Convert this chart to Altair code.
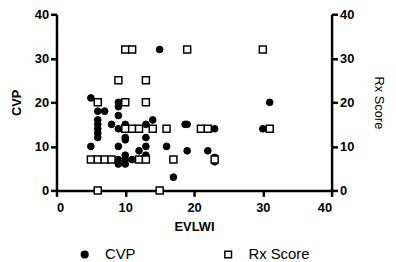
import altair as alt
import pandas as pd

# CVP (left axis) vs EVLWI
cvp_x = [5, 6, 7, 6, 6, 6, 6, 6, 5, 9, 9, 9, 8, 9, 10, 10, 11, 12, 13, 14, 10, 10, 9, 9, 9, 10, 10, 11, 10,
         13, 13, 13, 12, 16, 15, 17, 19, 19, 18.7, 22, 23, 22, 23, 23, 30, 31]
cvp_y = [21, 18, 18, 16, 15, 14, 13, 12, 10, 20, 19, 17, 15, 14, 15, 14, 14, 14, 15, 16, 12, 11.5, 10, 7, 6, 6, 7, 7, 8,
         12, 10, 8, 9, 10, 32, 3, 9, 15, 15, 9, 14, 14, 7.5, 6.5, 14, 20]

# Rx Score (right axis) vs EVLWI
rx_x = [6, 15, 5, 6, 7, 8, 12, 13, 17, 23, 10, 11, 12, 14, 16, 21, 22, 31, 6, 10, 13, 9, 13, 10, 11, 19, 30]
rx_y = [0, 0, 7, 7, 7, 7, 7, 7, 7, 7, 14, 14, 14, 14, 14, 14, 14, 14, 20, 20, 20, 25, 25, 32, 32, 32, 32]

series = ["CVP", "Rx Score"]

df_cvp = pd.DataFrame({"EVLWI": cvp_x, "val": cvp_y, "series": series[0]})
df_rx = pd.DataFrame({"EVLWI": rx_x, "val": rx_y, "series": series[1]})

FONT = "Liberation Sans"

xenc = alt.X("EVLWI:Q", scale=alt.Scale(domain=[0, 40], nice=False, zero=False),
             axis=alt.Axis(title="EVLWI", values=[0, 10, 20, 30, 40], titlePadding=7, labelPadding=5))

legend = alt.Legend(title=None, orient="none", legendX=21, legendY=235,
                    direction="horizontal", columnPadding=86,
                    labelFontSize=15, labelFont=FONT, labelFontWeight="normal", labelColor="black",
                    symbolSize=45, symbolStrokeWidth=1.5, labelOffset=13)
shape = alt.Shape("series:N", scale=alt.Scale(domain=series, range=["circle", "square"]), legend=legend)
fill = alt.Fill("series:N", scale=alt.Scale(domain=series, range=["black", "white"]), legend=legend)
stroke = alt.Stroke("series:N", scale=alt.Scale(domain=series, range=["black", "black"]), legend=legend)

left = alt.Chart(df_cvp).mark_point(size=46, opacity=1, strokeWidth=1).encode(
    x=xenc,
    y=alt.Y("val:Q", scale=alt.Scale(domain=[0, 40], nice=False),
            axis=alt.Axis(title="CVP", orient="left", values=[0, 10, 20, 30, 40], titlePadding=11)),
    shape=shape, fill=fill, stroke=stroke,
)

right = alt.Chart(df_rx).mark_point(size=50, opacity=1, strokeWidth=1.5).encode(
    x=xenc,
    y=alt.Y("val:Q", scale=alt.Scale(domain=[0, 40], nice=False),
            axis=alt.Axis(title="Rx Score", orient="right", values=[0, 10, 20, 30, 40],
                          titleFontWeight="normal", titlePadding=18)),
    shape=shape, fill=fill, stroke=stroke,
)

chart = alt.layer(left, right).resolve_scale(y="independent").properties(
    width=278, height=178,
    autosize=alt.AutoSizeParams(type="none"),
    padding={"left": 49, "top": 5, "right": 57, "bottom": 71},
).configure_view(stroke=None).configure_axis(
    domainColor="black", domainWidth=2.5, tickColor="black", tickWidth=2.5, tickSize=6,
    grid=False, labelFont=FONT, labelFontSize=13, labelFontWeight="bold", labelColor="black",
    titleFont=FONT, titleFontSize=13, titleFontWeight="bold", titleColor="black",
    labelPadding=2,
)

chart.save("out.html", embed_options={"renderer": "svg", "actions": False})
